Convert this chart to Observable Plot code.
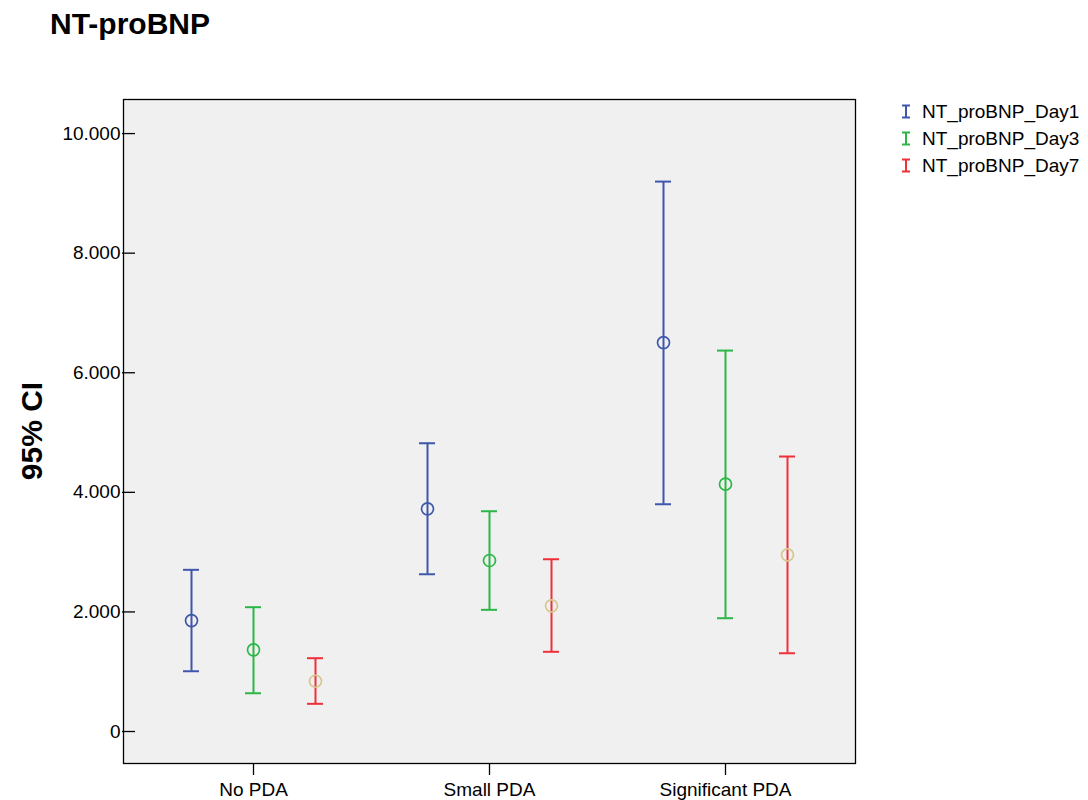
<!DOCTYPE html>
<html>
<head>
<meta charset="utf-8">
<script src="https://cdn.jsdelivr.net/npm/d3@7"></script>
<script src="https://cdn.jsdelivr.net/npm/@observablehq/plot@0.6"></script>
<style>
  body { margin: 0; background: #fff; }
  #wrap { position: relative; width: 1088px; height: 800px; overflow: hidden; font-family: "Liberation Sans", Arial, sans-serif; color: #000; }
  #chart { position: absolute; left: 0; top: 0; }
  #title { position: absolute; left: 50px; top: 9px; font-size: 30px; font-weight: bold; line-height: 1; white-space: nowrap; }
  #ylabel { position: absolute; left: 32px; top: 431px; font-size: 30px; font-weight: bold; line-height: 1; white-space: nowrap; transform: translate(-50%, -50%) rotate(-90deg); }
  #legend { position: absolute; left: 900px; top: 98px; font-size: 19px; line-height: 27px; }
  #legend .row { display: flex; align-items: center; white-space: nowrap; }
  #legend svg { margin-right: 10px; }
  #chart svg text { font-size: 19px; }
</style>
</head>
<body>
<div id="wrap">
  <div id="chart"></div>
  <div id="title">NT-proBNP</div>
  <div id="ylabel">95% CI</div>
  <div id="legend"></div>
</div>
<script>
// ---- data ----
const categories = ["No PDA", "Small PDA", "Significant PDA"];
const series = ["NT_proBNP_Day1", "NT_proBNP_Day3", "NT_proBNP_Day7"];

const day1Mean  = [1856, 3724, 6505];
const day1Lower = [1008, 2630, 3801];
const day1Upper = [2704, 4821, 9197];

const day3Mean  = [1366, 2860, 4136];
const day3Lower = [640, 2035, 1895];
const day3Upper = [2079, 3684, 6371];

const day7Mean  = [841, 2102, 2955];
const day7Lower = [463, 1333, 1309];
const day7Upper = [1226, 2881, 4599];

const yTicks = [0, 2000, 4000, 6000, 8000, 10000];

// ---- styles ----
const barColors = ["#3f57ab", "#2cb646", "#ee3039"];
const markerColors = ["#3f57ab", "#2cb646", "#d6c78f"];

// ---- build table ----
const means = [day1Mean, day3Mean, day7Mean];
const lowers = [day1Lower, day3Lower, day7Lower];
const uppers = [day1Upper, day3Upper, day7Upper];
const rows = [];
series.forEach((s, i) => {
  categories.forEach((c, j) => {
    rows.push({series: s, category: c, mean: means[i][j], lower: lowers[i][j], upper: uppers[i][j], si: i});
  });
});

const fmt = d => d3.format(",")(d).replace(/,/g, ".");

const chart = Plot.plot({
  width: 1088,
  height: 800,
  marginLeft: 123,
  marginRight: 233,
  marginTop: 99,
  marginBottom: 37,
  style: {fontFamily: '"Liberation Sans", Arial, sans-serif', fontSize: "19px", color: "#000", background: "transparent"},
  fx: {domain: categories, paddingInner: 0, paddingOuter: 0.0508, label: null, axis: null},
  x: {domain: series, paddingInner: 0.742, paddingOuter: 0.774, axis: null},
  y: {domain: [-535, 10570], axis: null},
  color: {type: "identity"},
  marks: [
    Plot.frame({facet: "super", insetLeft: -12, insetRight: -12, fill: "#f0f0f0", stroke: "#000", strokeWidth: 1.3, strokeOpacity: 1}),
    Plot.axisFx({anchor: "bottom", tickSize: 12, tickPadding: 7, label: null, fontSize: 19, stroke: "#000", strokeWidth: 1.3}),
    Plot.axisY({ticks: yTicks, tickFormat: fmt, tickSize: 13, tickPadding: 2, label: null, fontSize: 19, stroke: "#000", strokeWidth: 1.3}),
    Plot.ruleX(rows, {fx: "category", x: "series", y1: "lower", y2: "upper", stroke: d => barColors[d.si], strokeWidth: 2}),
    Plot.tickY(rows, {fx: "category", x: "series", y: "lower", stroke: d => barColors[d.si], strokeWidth: 2}),
    Plot.tickY(rows, {fx: "category", x: "series", y: "upper", stroke: d => barColors[d.si], strokeWidth: 2}),
    Plot.dot(rows, {fx: "category", x: "series", y: "mean", r: 6, fill: "none", stroke: d => markerColors[d.si], strokeWidth: 1.7})
  ]
});
document.getElementById("chart").appendChild(chart);

// ---- legend ----
const legend = document.getElementById("legend");
series.forEach((s, i) => {
  const row = document.createElement("div");
  row.className = "row";
  row.innerHTML = `<svg width="12" height="15" viewBox="0 0 12 15"><path d="M2,1.5H10M6,1.5V13.5M2,13.5H10" stroke="${barColors[i]}" stroke-width="2" fill="none"/></svg><span>${s}</span>`;
  legend.appendChild(row);
});
</script>
</body>
</html>
